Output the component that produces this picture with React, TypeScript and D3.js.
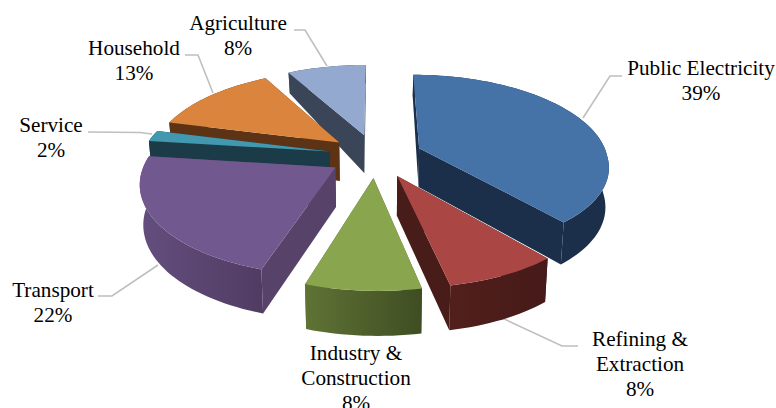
import React from "react";
import * as d3 from "d3";

// Emission shares by sector, clockwise from twelve o'clock.
const sectors = ["Public Electricity", "Refining & Extraction", "Industry & Construction", "Transport", "Service", "Household", "Agriculture"];
const shares = [39, 8, 8, 22, 2, 13, 8];

// Face colours per sector.
const topColors = ["#4573A7", "#AA4744", "#89A54E", "#71588F", "#4198AF", "#DB843D", "#93A9CF"];
const sideColors = ["#1B2F4A", "#471C19", "#4F6029", "#574369", "#1A3B47", "#5C3415", "#3A4658"];
const wallLeft = ["#1B2F4A", "#521F1C", "#5F7335", "#644E7E", "#1A3B47", "#5C3415", "#3A4658"];
const wallRight = ["#1B2F4A", "#451A18", "#3F4D22", "#503C62", "#1A3B47", "#5C3415", "#3A4658"];

// Painter's order: rear wedges first.
const drawOrder = [6, 5, 4, 3, 0, 1, 2];

// Label placement: text lines with their centre and baselines, plus the leader polyline.
const labelLines = [
  ["Public Electricity", "39%"],
  ["Refining &", "Extraction", "8%"],
  ["Industry &", "Construction", "8%"],
  ["Transport", "22%"],
  ["Service", "2%"],
  ["Household", "13%"],
  ["Agriculture", "8%"],
];
const labelCentreX = [701, 640, 356, 53, 51, 134, 238];
const labelBaseY = [75, 346, 360, 297, 132, 55, 30];
const leaders: [number, number][][] = [
  [[622, 76], [610, 76], [583, 118]],
  [[502, 318], [562, 346], [578, 346]],
  [],
  [[98, 296], [112, 296], [158, 265]],
  [[88, 132], [140, 132.5], [152, 134]],
  [[185, 55], [198, 55], [213, 93]],
  [[294, 30], [305, 30], [327, 66]],
];

// Perspective of the disc plane.
const originX = 375.5;
const originY = 155.5;
const scaleX = 188;
const scaleY = 87.1;
const perspective = 0.157;
const explode = 0.25;
const baseShrink = 0.985;

// The near half of the disc leans slightly to the right and fans out.
const frontLean = 3.9;
const frontFan = 2;

// Extrusion grows towards the viewer.
const depthAt = d3.scaleLinear().domain([70, 133, 290]).range([20, 38, 45]);

type Pt = [number, number];

function project(x: number, y: number): Pt {
  const w = 1 + perspective * y;
  const lean = y < 0 ? (-y * (frontLean + frontFan * x)) / w : 0;
  return [originX + (scaleX * x) / w + lean, originY - (scaleY * y) / w];
}

function lower([x, y]: Pt): Pt {
  return [originX + (x - originX) * baseShrink, y + depthAt(y)];
}

const outline = d3.line<Pt>();

const arcs = d3.pie<number>().sort(null).value((d) => d)(shares);

const wedges = arcs.map((arc) => {
  const mid = (arc.startAngle + arc.endAngle) / 2;
  const ox = explode * Math.sin(mid);
  const oy = explode * Math.cos(mid);
  const steps = Math.max(4, Math.ceil((arc.endAngle - arc.startAngle) * 30));
  const rim: Pt[] = d3.range(steps + 1).map((i) => {
    const a = arc.startAngle + ((arc.endAngle - arc.startAngle) * i) / steps;
    return project(ox + Math.sin(a), oy + Math.cos(a));
  });
  const apex = project(ox, oy);
  return { apex, rim };
});

export default function App() {
  return (
    <svg
      width={776}
      height={408}
      viewBox="0 0 776 408"
      style={{ position: "absolute", left: 0, top: 0, background: "#fff" }}
      fontFamily="'Liberation Serif', 'Times New Roman', serif"
    >
      <defs>
        {sectors.map((_, i) => (
          <linearGradient key={i} id={`wall-${i}`} x1="0" y1="0" x2="1" y2="0">
            <stop offset="0" stopColor={wallLeft[i]} />
            <stop offset="1" stopColor={wallRight[i]} />
          </linearGradient>
        ))}
      </defs>

      {leaders.map((pts, i) =>
        pts.length ? (
          <path key={i} d={outline(pts) ?? ""} fill="none" stroke="#BFBFBF" strokeWidth={1.6} />
        ) : null
      )}

      {drawOrder.map((i) => {
        const { apex, rim } = wedges[i];
        const first = rim[0];
        const last = rim[rim.length - 1];
        const startFace: Pt[] = [apex, first, lower(first), lower(apex)];
        const endFace: Pt[] = [apex, last, lower(last), lower(apex)];
        const wall: Pt[] = [...rim, ...rim.slice().reverse().map(lower)];
        const top: Pt[] = [apex, ...rim];
        return (
          <g key={sectors[i]}>
            <path d={`${outline(startFace)}Z`} fill={sideColors[i]} />
            <path d={`${outline(endFace)}Z`} fill={sideColors[i]} />
            <path d={`${outline(wall)}Z`} fill={`url(#wall-${i})`} />
            <path d={`${outline(top)}Z`} fill={topColors[i]} />
          </g>
        );
      })}

      {labelLines.map((lines, i) =>
        lines.map((line, j) => (
          <text
            key={`${i}-${j}`}
            x={labelCentreX[i]}
            y={labelBaseY[i] + j * 25}
            textAnchor="middle"
            fontSize={21.2}
            fill="#000"
          >
            {line}
          </text>
        ))
      )}
    </svg>
  );
}
